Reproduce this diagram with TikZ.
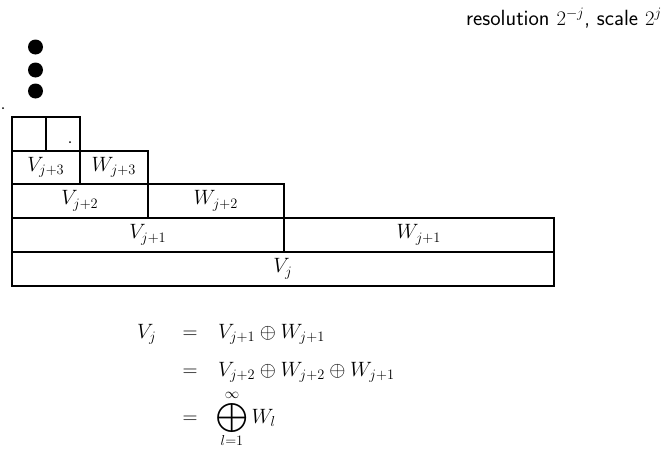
\documentclass[tikz,border=0pt]{standalone}
\usepackage{amsmath}
\begin{document}
\begin{tikzpicture}[x=1pt,y=-1pt,
  box/.style={draw, line width=1.6pt, rectangle, inner sep=0pt, anchor=north west},
  lab/.style={font=\fontsize{20}{24}\selectfont},
  eq/.style={font=\fontsize{20}{24}\selectfont, inner sep=0pt},
  bigdot/.style={fill=black, circle, inner sep=0pt, minimum size=15pt},
  tinydot/.style={fill=black, circle, inner sep=0pt, minimum size=2pt}]
\useasboundingbox (0,0) rectangle (670,450);
% rows
\node[box, minimum width=542pt, minimum height=34pt] (vj) at (11,251) {};
\node[lab] (lvj) at (vj.center) {$V_j$};
\node[box, minimum width=272pt, minimum height=34pt] (v1) at (11,217) {};
\node[lab] (lv1) at (v1.center) {$V_{j+1}$};
\node[box, minimum width=270pt, minimum height=34pt] (w1) at (283,217) {};
\node[lab] (lw1) at (w1.center) {$W_{j+1}$};
\node[box, minimum width=136pt, minimum height=34pt] (v2) at (11,183) {};
\node[lab] (lv2) at (v2.center) {$V_{j+2}$};
\node[box, minimum width=136pt, minimum height=34pt] (w2) at (147,183) {};
\node[lab] (lw2) at (w2.center) {$W_{j+2}$};
\node[box, minimum width=68pt, minimum height=33pt] (v3) at (11,150) {};
\node[lab] (lv3) at (v3.center) {$V_{j+3}$};
\node[box, minimum width=68pt, minimum height=33pt] (w3) at (79,150) {};
\node[lab] (lw3) at (w3.center) {$W_{j+3}$};
\node[box, minimum width=34pt, minimum height=34pt] (v4) at (11,116) {};
\node[box, minimum width=34pt, minimum height=34pt] (w4) at (45,116) {};
% dots
\node[bigdot] (d1) at (35.5,47) {};
\node[bigdot] (d2) at (35.5,70) {};
\node[bigdot] (d3) at (35.5,91) {};
\node[tinydot] (s1) at (3,108) {};
\node[tinydot] (s2) at (70,142) {};
% title
\node[font=\fontsize{22}{26}\selectfont\sffamily, anchor=base west, inner sep=0pt] (title) at (466,25) {resolution $2^{-j}$, scale $2^j$};
% equations
\node[eq, anchor=base west] (e1l) at (137,338) {$V_j$};
\node[eq, anchor=base] (e1e) at (190,338) {$=$};
\node[eq, anchor=base west] (e1r) at (218,338) {$V_{j+1}\oplus W_{j+1}$};
\node[eq, anchor=base] (e2e) at (190,376) {$=$};
\node[eq, anchor=base west] (e2r) at (218,376) {$V_{j+2}\oplus W_{j+2}\oplus W_{j+1}$};
\node[eq, anchor=base] (e3e) at (190,423) {$=$};
\node[eq] (op) at (232,418) {$\displaystyle\bigoplus$};
\node[eq, anchor=west] (wl) at (op.east) {$\,W_l$};
\node[eq, anchor=south] (inf) at ([yshift=2.5pt]op.north) {$\scriptstyle\infty$};
\node[eq, anchor=north] (lim) at ([yshift=-1pt]op.south) {$\scriptstyle l=1$};
\end{tikzpicture}
\end{document}
